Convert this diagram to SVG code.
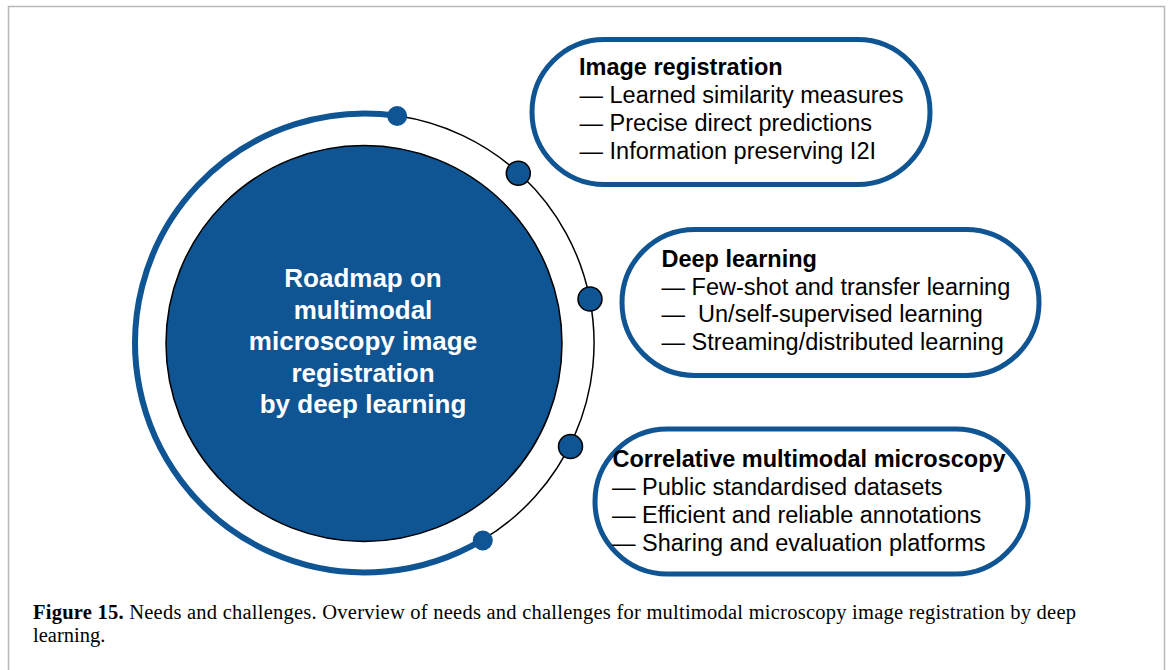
<svg xmlns="http://www.w3.org/2000/svg" width="1171" height="670" viewBox="0 0 1171 670">
<style>
.frame{fill:none;stroke:#b8b8b8;stroke-width:1.5}
.box{fill:#fff;stroke:#0f5493;stroke-width:5}
.ttl{font-family:"Liberation Sans",Arial,sans-serif;font-weight:bold;font-size:23.5px;fill:#000}
.itm{font-family:"Liberation Sans",Arial,sans-serif;font-size:23.5px;fill:#000}
.ctr{font-family:"Liberation Sans",Arial,sans-serif;font-weight:bold;font-size:26px;fill:#fff;text-anchor:middle}
.cap{font-family:"Liberation Serif","Times New Roman",serif;font-size:20.5px;fill:#000}
.dot{fill:#0f5493;stroke:#000;stroke-width:1.5}
.dot0{fill:#0f5493}
</style>
<rect width="1171" height="670" fill="#fff"/>
<path class="frame" d="M8.5,670 V6.5 H1164.5 V670"/>

<g id="connectors">
  <path d="M397.2,115.8 A229.5,229.5 0 1 0 482.4,539.9" fill="none" stroke="#0f5493" stroke-width="6"/>
  <path d="M397.2,115.8 A229.5,229.5 0 0 1 482.4,539.9" fill="none" stroke="#000" stroke-width="1.5"/>
  <circle class="dot0" cx="397.2" cy="116" r="10"/>
  <circle class="dot" cx="518.3" cy="173.3" r="12"/>
  <circle class="dot" cx="590" cy="299" r="12"/>
  <circle class="dot" cx="570.5" cy="446.5" r="12"/>
  <circle class="dot0" cx="482.8" cy="540.5" r="10"/>
</g>

<g id="center">
  <circle cx="364" cy="343.5" r="198" fill="#0f5493" stroke="#000" stroke-width="1.5"/>
  <text class="ctr" x="363" y="287">Roadmap on</text>
  <text class="ctr" x="363" y="318.5">multimodal</text>
  <text class="ctr" x="363" y="350">microscopy image</text>
  <text class="ctr" x="363" y="381.5">registration</text>
  <text class="ctr" x="363" y="413">by deep learning</text>
</g>

<g id="image-registration">
  <rect class="box" x="532" y="39.5" width="398" height="145" rx="72.5"/>
  <text class="ttl" x="579" y="74.5">Image registration</text>
  <text class="itm" x="579.5" y="102.5">— Learned similarity measures</text>
  <text class="itm" x="579.5" y="130.5">— Precise direct predictions</text>
  <text class="itm" x="579.5" y="158.5">— Information preserving I2I</text>
</g>

<g id="deep-learning">
  <rect class="box" x="622" y="229.5" width="417" height="146" rx="73"/>
  <text class="ttl" x="661.5" y="266.5">Deep learning</text>
  <text class="itm" x="661.5" y="294.5">— Few-shot and transfer learning</text>
  <text class="itm" x="661.5" y="322" xml:space="preserve">—  Un/self-supervised learning</text>
  <text class="itm" x="661.5" y="350">— Streaming/distributed learning</text>
</g>

<g id="correlative-microscopy">
  <rect class="box" x="595" y="429" width="433" height="145" rx="72.5"/>
  <text class="ttl" x="612.5" y="466.5">Correlative multimodal microscopy</text>
  <text class="itm" x="612" y="495">— Public standardised datasets</text>
  <text class="itm" x="612" y="523">— Efficient and reliable annotations</text>
  <text class="itm" x="612" y="551">— Sharing and evaluation platforms</text>
</g>

<g id="caption">
  <text class="cap" x="33" y="619" textLength="1043" lengthAdjust="spacing"><tspan font-weight="bold">Figure 15.</tspan> Needs and challenges. Overview of needs and challenges for multimodal microscopy image registration by deep</text>
  <text class="cap" x="33" y="641.5">learning.</text>
</g>
</svg>
